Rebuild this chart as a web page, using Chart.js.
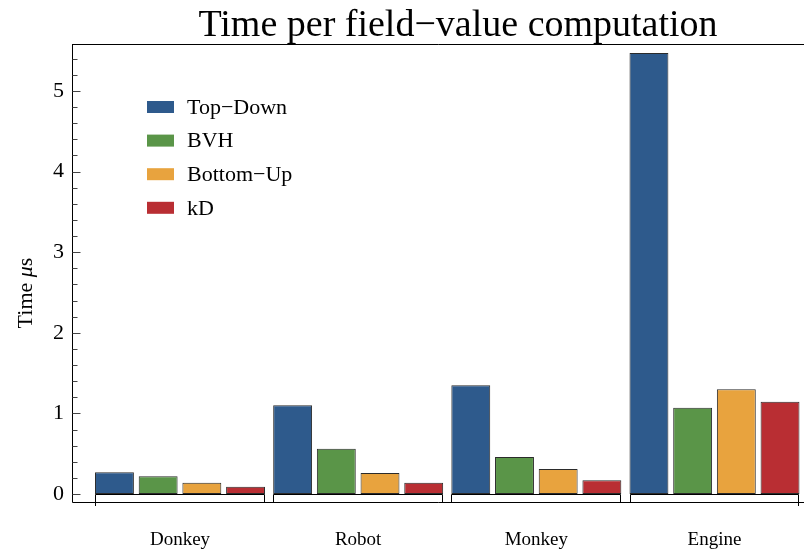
<!DOCTYPE html>
<html>
<head>
<meta charset="utf-8">
<title>Time per field-value computation</title>
<script src="https://cdn.jsdelivr.net/npm/chart.js@4/dist/chart.umd.min.js"></script>
<style>
    html, body { margin: 0; padding: 0; background: #ffffff; }
    #chartBox { width: 804px; height: 552px; }
</style>
</head>
<body>
<div id="chartBox"><canvas id="timeChart" width="804" height="552"></canvas></div>
<script>
// Chart data
const categories = ['Donkey', 'Robot', 'Monkey', 'Engine'];
const seriesNames = ['Top\u2212Down', 'BVH', 'Bottom\u2212Up', 'kD'];
const topDownTimes = [0.27, 1.10, 1.35, 5.47];
const bvhTimes = [0.22, 0.56, 0.46, 1.07];
const bottomUpTimes = [0.14, 0.26, 0.31, 1.30];
const kdTimes = [0.09, 0.14, 0.17, 1.145];
const yTickValues = [0, 1, 2, 3, 4, 5];

const seriesColors = ['#2e5a8c', '#5a9548', '#e8a33e', '#b92e33'];
const serifFont = '"Liberation Serif", "DejaVu Serif", serif';

function toPoints(values) {
    return values.map((v, i) => ({ x: i + 1, y: v }));
}

// Frame, inward ticks, group baselines, legend and titles
const decorPlugin = {
    id: 'decor',
    afterDatasetsDraw(chart) {
        const ctx = chart.ctx;
        const area = chart.chartArea;
        const yScale = chart.scales.y;

        ctx.save();
        ctx.strokeStyle = '#000';
        ctx.lineWidth = 1;

        // frame
        ctx.beginPath();
        ctx.moveTo(72.5, 44.5);
        ctx.lineTo(804, 44.5);
        ctx.moveTo(72.5, 44);
        ctx.lineTo(72.5, area.bottom + 0.5);
        ctx.lineTo(804, area.bottom + 0.5);
        ctx.stroke();

        // y ticks: major every 1, minor every 0.2
        ctx.strokeStyle = '#444';
        ctx.beginPath();
        for (let k = 0; k <= 27; k++) {
            const v = k * 0.2;
            if (v > yScale.max) break;
            const py = Math.round(yScale.getPixelForValue(v)) + 0.5;
            const len = (k % 5 === 0) ? 8 : 5;
            ctx.moveTo(72.5, py);
            ctx.lineTo(72.5 + len, py);
        }
        ctx.stroke();

        // group baselines drawn from the bar elements
        const first = chart.getDatasetMeta(0).data;
        const last = chart.getDatasetMeta(chart.data.datasets.length - 1).data;
        const zeroY = Math.round(yScale.getPixelForValue(0)) + 0.5;
        ctx.strokeStyle = '#000';
        ctx.beginPath();
        for (let i = 0; i < categories.length; i++) {
            const left = Math.round(first[i].x - first[i].width / 2) + 0.5;
            const right = Math.round(last[i].x + last[i].width / 2) - 0.5;
            ctx.moveTo(left, area.bottom);
            ctx.lineTo(left, zeroY);
            ctx.lineTo(right, zeroY);
            ctx.lineTo(right, area.bottom);
            if (i === 0) {
                ctx.moveTo(left, area.bottom);
                ctx.lineTo(left, area.bottom + 4);
            }
            if (i === categories.length - 1) {
                ctx.moveTo(right, area.bottom);
                ctx.lineTo(right, area.bottom + 4);
            }
        }
        ctx.stroke();

        // legend inside the plot
        ctx.font = '22px ' + serifFont;
        ctx.textBaseline = 'middle';
        ctx.textAlign = 'left';
        chart.data.datasets.forEach((ds, i) => {
            const cy = 107 + i * 33.6;
            ctx.fillStyle = ds.backgroundColor;
            ctx.fillRect(147, cy - 6, 27, 12);
            ctx.fillStyle = '#000';
            ctx.fillText(ds.label, 187, cy + 1);
        });

        // title
        ctx.font = '38px ' + serifFont;
        ctx.textAlign = 'center';
        ctx.textBaseline = 'alphabetic';
        ctx.fillText('Time per field\u2212value computation', 458, 36);

        // y axis title with italic mu
        ctx.translate(32, 293);
        ctx.rotate(-Math.PI / 2);
        const normal = '22px ' + serifFont;
        const italic = 'italic 22px ' + serifFont;
        const parts = [['Time ', normal], ['\u03bc', italic], ['s', normal]];
        let total = 0;
        parts.forEach(p => { ctx.font = p[1]; total += ctx.measureText(p[0]).width; });
        let x = -total / 2;
        ctx.textAlign = 'left';
        parts.forEach(p => {
            ctx.font = p[1];
            ctx.fillText(p[0], x, 0);
            x += ctx.measureText(p[0]).width;
        });
        ctx.restore();
    }
};

const seriesValues = [topDownTimes, bvhTimes, bottomUpTimes, kdTimes];

new Chart(document.getElementById('timeChart'), {
    type: 'bar',
    data: {
        datasets: seriesValues.map((vals, i) => ({
            label: seriesNames[i],
            data: toPoints(vals),
            backgroundColor: seriesColors[i],
            borderColor: 'rgba(20,20,20,0.9)',
            borderWidth: 1,
            borderSkipped: false,
            categoryPercentage: 0.981,
            barPercentage: 0.89
        }))
    },
    options: {
        responsive: false,
        animation: false,
        devicePixelRatio: 1,
        layout: { padding: { left: 0, top: 44, right: 1, bottom: 0 } },
        plugins: {
            legend: { display: false },
            tooltip: { enabled: false }
        },
        scales: {
            x: {
                type: 'linear',
                offset: false,
                min: 0.3938,
                max: 4.4968,
                grid: { display: false, drawTicks: false, offset: false },
                border: { display: false },
                afterBuildTicks: scale => {
                    scale.ticks = categories.map((c, i) => ({ value: i + 1 }));
                },
                afterFit: scale => { scale.height = 50; },
                ticks: {
                    autoSkip: false,
                    maxRotation: 0,
                    padding: 27,
                    color: '#000',
                    font: { family: serifFont, size: 19 },
                    callback: value => categories[value - 1]
                }
            },
            y: {
                min: -0.0993,
                max: 5.583,
                grid: { display: false, drawTicks: false },
                border: { display: false },
                afterBuildTicks: scale => {
                    scale.ticks = yTickValues.map(v => ({ value: v }));
                },
                afterFit: scale => { scale.width = 72; },
                ticks: {
                    padding: 8,
                    color: '#000',
                    font: { family: serifFont, size: 22 }
                }
            }
        }
    },
    plugins: [decorPlugin]
});
</script>
</body>
</html>
